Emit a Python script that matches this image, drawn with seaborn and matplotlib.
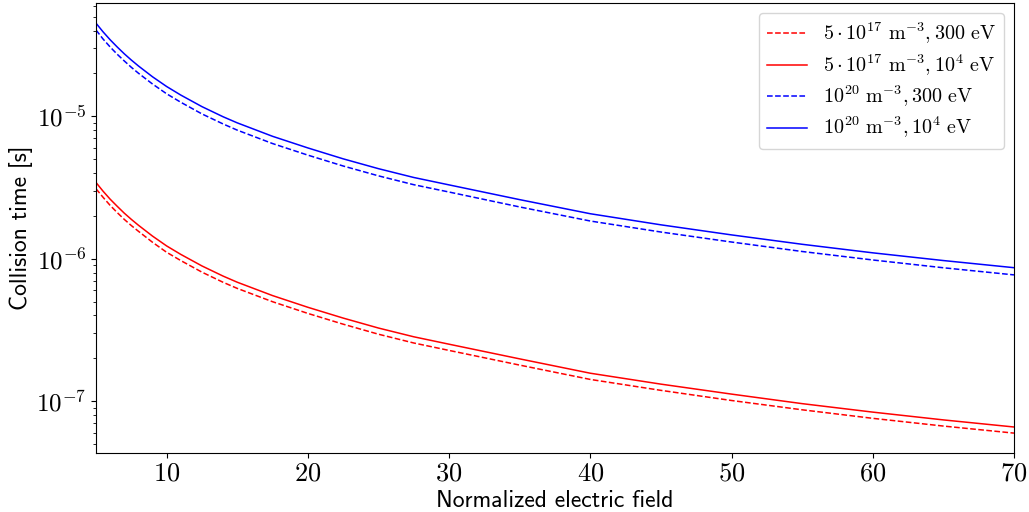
import numpy as np
import pandas as pd
import matplotlib
matplotlib.use("Agg")
import matplotlib.pyplot as plt
import matplotlib.ticker as mticker
import seaborn as sns

# values
field = [5, 5.5, 6, 6.5, 7, 7.5, 8, 9, 10, 11, 12.5, 14, 15, 17.5, 20, 22.5,
         25, 27.5, 30, 35, 40, 45, 50, 55, 60, 65, 70]

# 5e17 m^-3, 300 eV
tau_low_300 = [3.10e-6, 2.70e-6, 2.37e-6, 2.11e-6, 1.89e-6, 1.71e-6, 1.56e-6,
               1.305e-6, 1.11e-6, 9.71e-7, 8.05e-7, 6.83e-7, 6.19e-7, 4.99e-7,
               4.13e-7, 3.47e-7, 2.95e-7, 2.56e-7, 2.27e-7, 1.79e-7, 1.42e-7,
               1.19e-7, 1.01e-7, 8.69e-8, 7.57e-8, 6.68e-8, 5.96e-8]
# 5e17 m^-3, 1e4 eV
tau_low_1e4 = [3.43e-6, 2.98e-6, 2.62e-6, 2.335e-6, 2.09e-6, 1.89e-6, 1.72e-6,
               1.442e-6, 1.23e-6, 1.073e-6, 8.90e-7, 7.55e-7, 6.84e-7, 5.51e-7,
               4.56e-7, 3.83e-7, 3.26e-7, 2.83e-7, 2.51e-7, 1.98e-7, 1.57e-7,
               1.316e-7, 1.12e-7, 9.60e-8, 8.37e-8, 7.38e-8, 6.58e-8]
# 1e20 m^-3, 300 eV
tau_high_300 = [4.04e-5, 3.49e-5, 3.07e-5, 2.73e-5, 2.45e-5, 2.21e-5, 2.01e-5,
                1.687e-5, 1.44e-5, 1.256e-5, 1.04e-5, 8.84e-6, 8.00e-6, 6.44e-6,
                5.34e-6, 4.48e-6, 3.82e-6, 3.31e-6, 2.94e-6, 2.31e-6, 1.84e-6,
                1.54e-6, 1.31e-6, 1.124e-6, 9.80e-7, 8.64e-7, 7.70e-7]
# 1e20 m^-3, 1e4 eV
tau_high_1e4 = [4.51e-5, 3.92e-5, 3.45e-5, 3.07e-5, 2.75e-5, 2.485e-5, 2.26e-5,
                1.896e-5, 1.62e-5, 1.411e-5, 1.17e-5, 9.93e-6, 9.00e-6, 7.24e-6,
                6.00e-6, 5.03e-6, 4.29e-6, 3.72e-6, 3.30e-6, 2.60e-6, 2.07e-6,
                1.73e-6, 1.47e-6, 1.263e-6, 1.10e-6, 9.71e-7, 8.65e-7]

labels = [r'$5\cdot 10^{17}\ \mathrm{m}^{-3}, 300\ \mathrm{eV}$',
          r'$5\cdot 10^{17}\ \mathrm{m}^{-3}, 10^4\ \mathrm{eV}$',
          r'$10^{20}\ \mathrm{m}^{-3}, 300\ \mathrm{eV}$',
          r'$10^{20}\ \mathrm{m}^{-3}, 10^4\ \mathrm{eV}$']
colors = ['red', 'red', 'blue', 'blue']
styles = ['--', '-', '--', '-']

plt.rcParams['mathtext.fontset'] = 'cm'
plt.rcParams['font.family'] = ['cmss10', 'DejaVu Sans']
plt.rcParams['axes.unicode_minus'] = False

fig, ax = plt.subplots(figsize=(10.29, 5.12), dpi=100)
fig.subplots_adjust(left=0.0933, right=0.9854, top=0.9947, bottom=0.1152)

series = [tau_low_300, tau_low_1e4, tau_high_300, tau_high_1e4]
for vals, lab, col, ls in zip(series, labels, colors, styles):
    df = pd.DataFrame({'E': field, 'tau': vals})
    sns.lineplot(data=df, x='E', y='tau', ax=ax, color=col, linestyle=ls,
                 linewidth=1.1, label=lab)

ax.set_yscale('log')
ax.set_xlim(5, 70)
ax.set_ylim(4.32e-8, 6.28e-5)
ax.set_xticks([10, 20, 30, 40, 50, 60, 70])
ax.xaxis.set_major_formatter(mticker.FuncFormatter(lambda v, _: r'$%d$' % v))
ax.yaxis.set_major_formatter(
    mticker.FuncFormatter(lambda v, _: r'$10^{%d}$' % round(np.log10(v))))
ax.yaxis.set_minor_formatter(mticker.NullFormatter())
ax.tick_params(axis='x', which='major', labelsize=19)
ax.tick_params(axis='y', which='major', labelsize=18)

ax.set_xlabel('Normalized electric field', fontsize=17, labelpad=3)
ax.set_ylabel('Collision time [s]', fontsize=17)
ax.yaxis.set_label_coords(-0.069, 0.5)

ax.legend(loc='upper right', fontsize=14.5, handlelength=2.0, labelspacing=0.3)

fig.savefig('out.png', dpi=100)
